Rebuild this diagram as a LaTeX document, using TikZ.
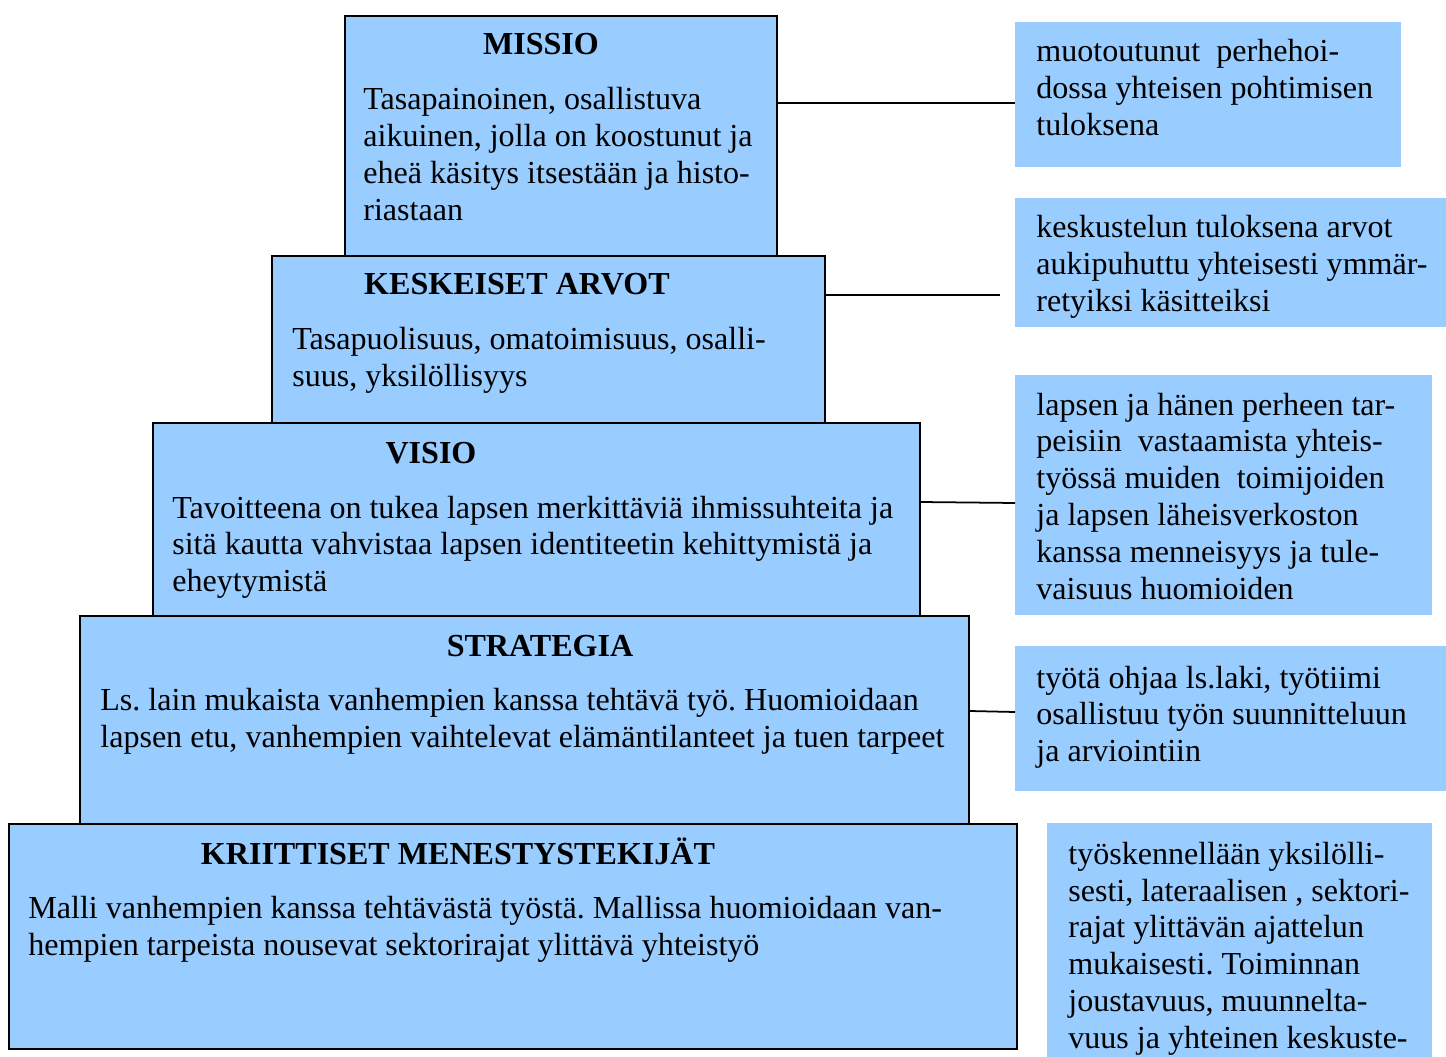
\documentclass[tikz,border=0pt]{standalone}
\usepackage{fontspec}
\setmainfont{Liberation Serif}
\usetikzlibrary{calc}
\definecolor{boxblue}{HTML}{99CCFF}
\frenchspacing

% a left-aligned block of lines whose reference point is the first baseline
\newcommand{\txtblock}[1]{\vtop{\baselineskip=0.74cm\lineskip=0pt\lineskiplimit=-20pt\halign{##\hfil\cr#1\crcr}}}

\begin{document}
\begin{tikzpicture}[x=0.02cm,y=-0.02cm,
  pyrbox/.style={draw=black,line width=1.1pt,fill=boxblue,inner sep=0pt,anchor=north west},
  notebox/.style={fill=boxblue,inner sep=0pt,anchor=north west},
  title/.style={anchor=base,inner sep=0pt,font=\fontsize{18.25pt}{0.74cm}\selectfont\bfseries},
  body/.style={anchor=base west,inner sep=0pt,font=\fontsize{18.25pt}{0.74cm}\selectfont},
  link/.style={draw=black,line width=1pt}]
\useasboundingbox (0,0) rectangle (1446,1057);

% pyramid of levels, drawn from the top down
\node[pyrbox,minimum width=8.64cm,minimum height=4.80cm] (missio) at (344,15) {};
\node[pyrbox,minimum width=11.06cm,minimum height=3.34cm] (arvot) at (271,255) {};
\node[pyrbox,minimum width=15.34cm,minimum height=3.86cm] (visio) at (152,422) {};
\node[pyrbox,minimum width=17.78cm,minimum height=4.16cm] (strategia) at (79,615) {};
\node[pyrbox,minimum width=20.16cm,minimum height=4.50cm] (kriitt) at (8,823) {};

\node[title] (t1) at (541,55) {MISSIO};
\node[body] (b1) at (363,110) {\txtblock{Tasapainoinen, osallistuva\cr aikuinen, jolla on koostunut ja\cr eheä käsitys itsestään ja histo-\cr riastaan}};

\node[title] (t2) at (517,295) {KESKEISET ARVOT};
\node[body] (b2) at (292,350) {\txtblock{Tasapuolisuus, omatoimisuus, osalli-\cr suus, yksilöllisyys}};

\node[title] (t3) at (431,463) {VISIO};
\node[body] (b3) at (172,518) {\txtblock{Tavoitteena on tukea lapsen merkittäviä ihmissuhteita ja\cr sitä kautta vahvistaa lapsen identiteetin kehittymistä ja\cr eheytymistä}};

\node[title] (t4) at (540,656) {STRATEGIA};
\node[body] (b4) at (100,710) {\txtblock{Ls. lain mukaista vanhempien kanssa tehtävä työ. Huomioidaan\cr lapsen etu, vanhempien vaihtelevat elämäntilanteet ja tuen tarpeet}};

\node[title] (t5) at (458,864) {KRIITTISET MENESTYSTEKIJÄT};
\node[body] (b5) at (28,918) {\txtblock{Malli vanhempien kanssa tehtävästä työstä. Mallissa huomioidaan van-\cr hempien tarpeista nousevat sektorirajat ylittävä yhteistyö}};

% side notes
\node[notebox,minimum width=7.72cm,minimum height=2.90cm] (n1) at (1015,22) {};
\node[notebox,minimum width=8.62cm,minimum height=2.58cm] (n2) at (1015,198) {};
\node[notebox,minimum width=8.34cm,minimum height=4.80cm] (n3) at (1015,375) {};
\node[notebox,minimum width=8.62cm,minimum height=2.90cm] (n4) at (1015,646) {};
\node[notebox,minimum width=7.70cm,minimum height=4.80cm] (n5) at (1047,823) {};

\node[body] (s1) at (1036,62) {\txtblock{muotoutunut\ \ perhehoi-\cr dossa yhteisen pohtimisen\cr tuloksena}};
\node[body] (s2) at (1036,238) {\txtblock{keskustelun tuloksena arvot\cr aukipuhuttu yhteisesti ymmär-\cr retyiksi käsitteiksi}};
\node[body] (s3) at (1036,415) {\txtblock{lapsen ja hänen perheen tar-\cr peisiin\ \ vastaamista yhteis-\cr työssä muiden\ \ toimijoiden\cr ja lapsen läheisverkoston\cr kanssa menneisyys ja tule-\cr vaisuus huomioiden}};
\node[body] (s4) at (1036,688) {\txtblock{työtä ohjaa ls.laki, työtiimi\cr osallistuu työn suunnitteluun\cr ja arviointiin}};
\node[body] (s5) at (1068,864) {\txtblock{työskennellään yksilölli-\cr sesti, lateraalisen , sektori-\cr rajat ylittävän ajattelun\cr mukaisesti. Toiminnan\cr joustavuus, muunnelta-\cr vuus ja yhteinen keskuste-}};

% connectors between levels and notes
\coordinate (e2) at (1000,295);
\draw[link] (missio.east |- 0,103) -- (n1.west |- 0,103);
\draw[link] (arvot.east |- e2) -- (e2);
\draw[link] (visio.east |- 0,502) -- (n3.west |- 0,503);
\draw[link] (strategia.east |- 0,711) -- (n4.west |- 0,712);
\end{tikzpicture}
\end{document}
